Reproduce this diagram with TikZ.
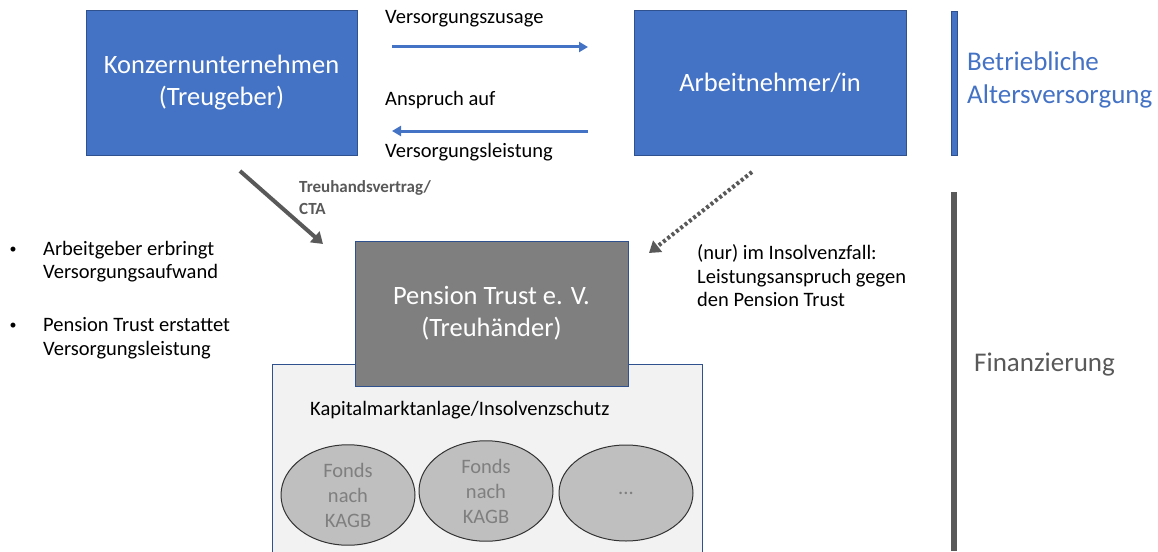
\documentclass[tikz,border=0pt]{standalone}
\usepackage{fontspec}
\setmainfont{Carlito}
\usetikzlibrary{arrows.meta,shapes.geometric}
\definecolor{mblue}{HTML}{4472C4}
\definecolor{dblue}{HTML}{2F528F}
\definecolor{tgray}{HTML}{595959}
\definecolor{pgray}{HTML}{7F7F7F}
\definecolor{lgray}{HTML}{F2F2F2}
\definecolor{egray}{HTML}{BFBFBF}
\tikzset{
  bluebox/.style={draw=dblue,fill=mblue,line width=1pt,text=white,align=center,font=\fontsize{26.5}{32}\selectfont},
  txt/.style={inner sep=0pt,align=left,font=\fontsize{20.5}{23.5}\selectfont},
  fonds/.style={ellipse,draw=black!80,fill=egray,line width=1pt,minimum width=134pt,minimum height=96pt,text=pgray,align=center,font=\fontsize{20.5}{25}\selectfont},
  bluearrow/.style={draw=mblue,line width=3pt,-{Triangle[length=9pt,width=10pt]}},
}
\begin{document}
\begin{tikzpicture}[x=1pt,y=-1pt]
\useasboundingbox (0,0) rectangle (1158,551);
% top boxes
\node[bluebox,minimum width=271pt,minimum height=144pt] (konz) at (221.5,83) {Konzernunternehmen\\(Treugeber)};
\node[bluebox,minimum width=272pt,minimum height=144pt] (arb) at (770,83) {Arbeitnehmer/in};
% arrows between
\coordinate (a1s) at (392,47); \coordinate (a1e) at (588,47);
\coordinate (a2s) at (588,131); \coordinate (a2e) at (392,131);
\draw[bluearrow] (a1s) -- (a1e);
\draw[bluearrow] (a2s) -- (a2e);
\node[txt,anchor=west] (vz) at (385,19) {Versorgungszusage};
\node[txt,anchor=west] (ans) at (385,100) {Anspruch auf};
\node[txt,anchor=west] (vl) at (385,152) {Versorgungsleistung};
% right side bars
\fill[mblue,draw=dblue,line width=0.8pt] (951,11) rectangle (957,155);
\node[txt,anchor=west,text=mblue,font=\fontsize{27}{33}\selectfont] (bav) at (967,80) {Betriebliche\\Altersversorgung};
\fill[tgray] (951,192) rectangle (957,551);
\node[txt,anchor=west,text=tgray,font=\fontsize{27}{32}\selectfont] (fin) at (974,365) {Finanzierung};
% lower big box
\node[draw=dblue,fill=lgray,line width=1pt,minimum width=430pt,minimum height=200pt,anchor=north west,inner sep=0pt] (kap) at (272,364) {};
\node[bluebox,fill=pgray,minimum width=273pt,minimum height=145pt] (pt) at (491.5,313.5) {Pension Trust e. V.\\(Treuhänder)};
\node[txt,anchor=west] (kapt) at (310,410) {Kapitalmarktanlage/Insolvenzschutz};
\node[fonds] (f1) at (348,495) {Fonds\\nach\\KAGB};
\node[fonds] (f2) at (486,491) {Fonds\\nach\\KAGB};
\node[fonds] (f3) at (626,493) {...};
% diagonal arrows
\coordinate (g1s) at (240,171); \coordinate (g1e) at (323,244);
\draw[draw=tgray,line width=4pt,-{Triangle[length=11pt,width=14pt]}] (g1s) -- (g1e);
\node[txt,anchor=west,text=tgray,font=\bfseries\fontsize{17}{22}\selectfont] (tv) at (299,198) {Treuhandsvertrag/\\CTA};
\coordinate (g2s) at (752,172); \coordinate (g2e) at (649,253);
\draw[draw=tgray,line width=4pt,dash pattern=on 3pt off 2.5pt,-{Triangle[length=11pt,width=14pt]}] (g2s) -- (g2e);
\node[txt,anchor=west] (ins) at (697,276) {(nur) im Insolvenzfall:\\Leistungsanspruch gegen\\den Pension Trust};
% bullets
\node[txt,anchor=west] (b1) at (43,261.5) {Arbeitgeber erbringt\\Versorgungsaufwand};
\node[txt,anchor=west] (b2) at (43,338) {Pension Trust erstattet\\Versorgungsleistung};
\node[txt,font=\fontsize{14}{14}\selectfont] (d1) at (13,250) {\textbullet};
\node[txt,font=\fontsize{14}{14}\selectfont] (d2) at (13,326) {\textbullet};
\end{tikzpicture}
\end{document}
